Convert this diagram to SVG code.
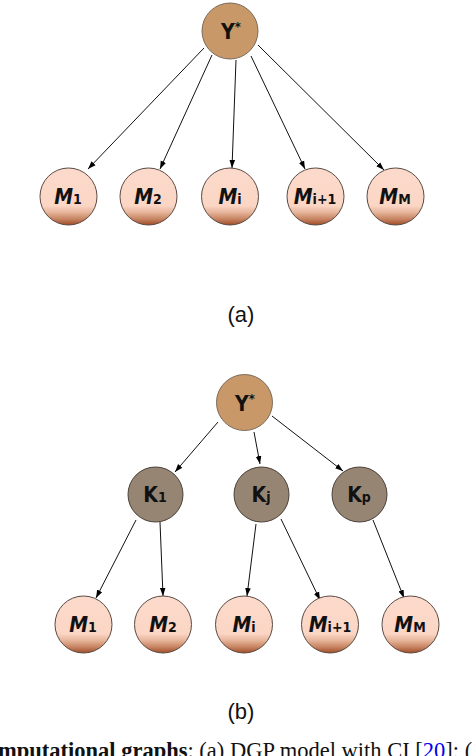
<svg xmlns="http://www.w3.org/2000/svg" width="476" height="756" viewBox="0 0 476 756">
<defs>
<linearGradient id="mg" x1="0" y1="0" x2="0" y2="1">
<stop offset="0" stop-color="#fcdacb"/>
<stop offset="0.66" stop-color="#fbd6c5"/>
<stop offset="0.78" stop-color="#e6b49a"/>
<stop offset="0.9" stop-color="#c58260"/>
<stop offset="1" stop-color="#a04c26"/>
</linearGradient>
<marker id="ah" viewBox="0 0 10 10" refX="10" refY="5" markerWidth="8" markerHeight="8" markerUnits="userSpaceOnUse" orient="auto">
<path d="M0,1.5 L10,5 L0,8.5 Z" fill="#000"/>
</marker>
</defs>
<style>
.y{fill:#c89868;stroke:#7a6a5a;stroke-width:1}
.k{fill:#978574;stroke:#4a4038;stroke-width:1}
.m{fill:url(#mg);stroke:#5a4a42;stroke-width:1}
.lb{font-family:"DejaVu Sans Condensed","Liberation Sans",sans-serif;font-weight:bold;font-size:21px;fill:#111;text-anchor:middle}
.mi{font-style:italic}
.sb{font-size:14px;font-style:normal}
.st{font-size:13px}
.cap{font-family:"Liberation Sans",Arial,sans-serif;font-size:22px;fill:#111;text-anchor:middle}
.e{stroke:#111;stroke-width:1;fill:none;marker-end:url(#ah)}
</style>
<g id="connectors">
<line class="e" x1="204" y1="48" x2="88" y2="169"/>
<line class="e" x1="212" y1="55" x2="160" y2="169"/>
<line class="e" x1="236" y1="60" x2="232" y2="168"/>
<line class="e" x1="251" y1="56" x2="305" y2="169"/>
<line class="e" x1="258" y1="45" x2="384" y2="170"/>
<line class="e" x1="218" y1="422" x2="175" y2="472"/>
<line class="e" x1="254" y1="432" x2="260" y2="464"/>
<line class="e" x1="272" y1="416" x2="343" y2="471"/>
<line class="e" x1="136" y1="520" x2="96" y2="598"/>
<line class="e" x1="160" y1="522" x2="163" y2="596"/>
<line class="e" x1="256" y1="524" x2="247" y2="596"/>
<line class="e" x1="281" y1="519" x2="320" y2="600"/>
<line class="e" x1="373" y1="520" x2="404" y2="598"/>
</g>
<g id="a_Y"><circle class="y" cx="230" cy="31" r="28"/><text class="lb" x="231" y="39">Y<tspan class="st" dy="-8">*</tspan></text></g>
<g id="a_M1"><circle class="m" cx="68.5" cy="196.5" r="28.5"/><text class="lb" x="68" y="204"><tspan class="mi">M</tspan><tspan class="sb">1</tspan></text></g>
<g id="a_M2"><circle class="m" cx="148.5" cy="196.5" r="28.5"/><text class="lb" x="148" y="204"><tspan class="mi">M</tspan><tspan class="sb">2</tspan></text></g>
<g id="a_Mi"><circle class="m" cx="230" cy="196.5" r="28.5"/><text class="lb" x="230" y="204"><tspan class="mi">M</tspan><tspan class="sb">i</tspan></text></g>
<g id="a_Mi1"><circle class="m" cx="315.5" cy="196.5" r="28.5"/><text class="lb" x="315" y="204"><tspan class="mi">M</tspan><tspan class="sb">i+1</tspan></text></g>
<g id="a_MM"><circle class="m" cx="395.5" cy="196.5" r="28.5"/><text class="lb" x="395" y="204"><tspan class="mi">M</tspan><tspan class="sb mi">M</tspan></text></g>
<text class="cap" x="241" y="322">(a)</text>
<g id="b_Y"><circle class="y" cx="244.5" cy="402.5" r="28"/><text class="lb" x="245" y="411">Y<tspan class="st" dy="-8">*</tspan></text></g>
<g id="b_K1"><circle class="k" cx="155.5" cy="494.5" r="27.5"/><text class="lb" x="155" y="502">K<tspan class="sb">1</tspan></text></g>
<g id="b_Kj"><circle class="k" cx="261.5" cy="494.5" r="27.5"/><text class="lb" x="261" y="502">K<tspan class="sb">j</tspan></text></g>
<g id="b_Kp"><circle class="k" cx="359.5" cy="494.5" r="27.5"/><text class="lb" x="359" y="502">K<tspan class="sb">p</tspan></text></g>
<g id="b_M1"><circle class="m" cx="83.5" cy="624.5" r="28.5"/><text class="lb" x="83" y="632"><tspan class="mi">M</tspan><tspan class="sb">1</tspan></text></g>
<g id="b_M2"><circle class="m" cx="163" cy="624.5" r="28.5"/><text class="lb" x="163" y="632"><tspan class="mi">M</tspan><tspan class="sb">2</tspan></text></g>
<g id="b_Mi"><circle class="m" cx="244" cy="624.5" r="28.5"/><text class="lb" x="244" y="632"><tspan class="mi">M</tspan><tspan class="sb">i</tspan></text></g>
<g id="b_Mi1"><circle class="m" cx="330" cy="624.5" r="28.5"/><text class="lb" x="330" y="632"><tspan class="mi">M</tspan><tspan class="sb">i+1</tspan></text></g>
<g id="b_MM"><circle class="m" cx="410.5" cy="624.5" r="28.5"/><text class="lb" x="410" y="632"><tspan class="mi">M</tspan><tspan class="sb mi">M</tspan></text></g>
<text class="cap" x="241" y="719">(b)</text>
<text x="-2" y="758" font-family="Liberation Serif,'Times New Roman',serif" font-size="22.5" fill="#111"><tspan font-weight="bold">mputational graphs</tspan>: (a) DGP model with CI [<tspan fill="#0000ee">20</tspan>]; (</text>
</svg>
